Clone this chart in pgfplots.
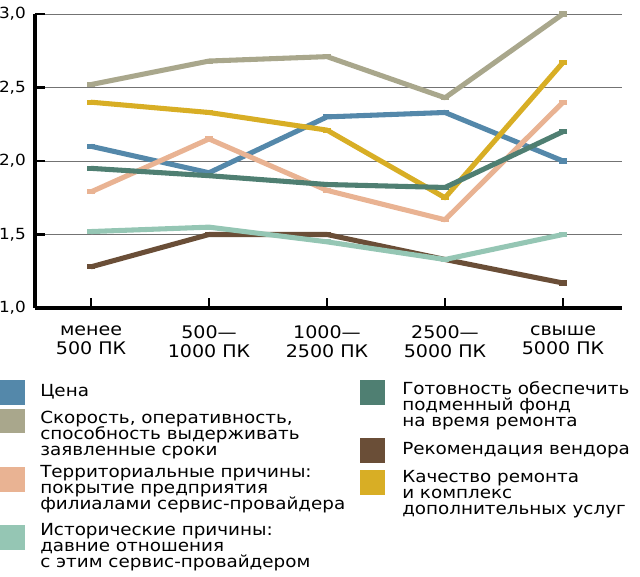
\documentclass[border=0pt]{standalone}
\usepackage{fontspec}
\setmainfont{DejaVu Sans}[FakeStretch=1.1]
\usepackage{pgfplots}
\pgfplotsset{compat=1.18}

\definecolor{cBlue}{HTML}{5488AA}
\definecolor{cGray}{HTML}{A9A78C}
\definecolor{cPeach}{HTML}{E9B393}
\definecolor{cMint}{HTML}{95C6B4}
\definecolor{cGreen}{HTML}{4F7F72}
\definecolor{cBrown}{HTML}{6A4E37}
\definecolor{cYellow}{HTML}{D8AE25}

% reference pixels -> pt, origin at the axis' lower left corner (35,308)
\newcommand\X[1]{{(#1-35)*0.75pt}}
\newcommand\Y[1]{{(308-#1)*0.75pt}}
\newcommand\legline[3]{\node[anchor=base west, inner sep=0pt] at (\X{#1},\Y{#2}) {#3};}

\begin{document}
\fontsize{12.5}{12}\selectfont
\begin{tikzpicture}
\useasboundingbox (\X{0},\Y{0}) rectangle (\X{640},\Y{577});
\begin{axis}[
  at={(0,0)}, anchor=south west,
  scale only axis,
  width=440.25pt, height=220.5pt,
  xmin=-0.475, xmax=4.5,
  ymin=1, ymax=3,
  axis x line=bottom, axis y line=left,
  axis line style={line width=2.4pt, -},
  tick style={line width=2pt, black},
  major tick length=7.5pt,
  tick align=inside,
  xtick={0,1,2,3,4},
  xticklabels={{менее\\500 ПК},{500—\\1000 ПК},{1000—\\2500 ПК},{2500—\\5000 ПК},{свыше\\5000 ПК}},
  xticklabel style={align=center, yshift=-9pt, font=\fontsize{13}{14.25}\selectfont},
  ytick={1,1.5,2,2.5,3},
  yticklabel style={xshift=-2.5pt, font=\fontsize{11.5}{12}\selectfont,
    /pgf/number format/.cd, use comma, fixed, fixed zerofill, precision=1, assume math mode=true},
  ymajorgrids,
  grid style={black!55, line width=0.6pt},
  every axis plot/.append style={line width=3.8pt, line join=round, mark=-, mark size=3pt},
]
\addplot[cBlue] coordinates {(0,2.10) (1,1.92) (2,2.30) (3,2.33) (4,2.00)};
\addplot[cGray] coordinates {(0,2.52) (1,2.68) (2,2.71) (3,2.43) (4,3.00)};
\addplot[cPeach] coordinates {(0,1.79) (1,2.15) (2,1.80) (3,1.60) (4,2.40)};
\addplot[cYellow] coordinates {(0,2.40) (1,2.33) (2,2.21) (3,1.75) (4,2.67)};
\addplot[cGreen] coordinates {(0,1.95) (1,1.90) (2,1.84) (3,1.82) (4,2.20)};
\addplot[cBrown] coordinates {(0,1.28) (1,1.50) (2,1.50) (3,1.33) (4,1.17)};
\addplot[cMint] coordinates {(0,1.52) (1,1.55) (2,1.45) (3,1.33) (4,1.50)};
\end{axis}

% legend, left column
\fill[cBlue]  (\X{0},\Y{380}) rectangle (\X{25},\Y{405});
\fill[cGray]  (\X{0},\Y{409}) rectangle (\X{25},\Y{433});
\fill[cPeach] (\X{0},\Y{467}) rectangle (\X{25},\Y{492});
\fill[cMint]  (\X{0},\Y{525}) rectangle (\X{25},\Y{550});
\legline{40}{397}{Цена}
\legline{40}{424}{Скорость, оперативность,}
\legline{40}{440}{способность выдерживать}
\legline{40}{456}{заявленные сроки}
\legline{40}{478}{Территориальные причины:}
\legline{40}{494}{покрытие предприятия}
\legline{40}{510}{филиалами сервис-провайдера}
\legline{40}{536}{Исторические причины:}
\legline{40}{552}{давние отношения}
\legline{40}{568}{с этим сервис-провайдером}
% legend, right column
\fill[cGreen]  (\X{360},\Y{380}) rectangle (\X{385},\Y{405});
\fill[cBrown]  (\X{360},\Y{438}) rectangle (\X{385},\Y{463});
\fill[cYellow] (\X{360},\Y{470}) rectangle (\X{385},\Y{495});
\legline{402}{395}{Готовность обеспечить}
\legline{402}{411}{подменный фонд}
\legline{402}{427}{на время ремонта}
\legline{402}{455}{Рекомендация вендора}
\legline{402}{483}{Качество ремонта}
\legline{402}{499}{и комплекс}
\legline{402}{515}{дополнительных услуг}
\end{tikzpicture}
\end{document}
